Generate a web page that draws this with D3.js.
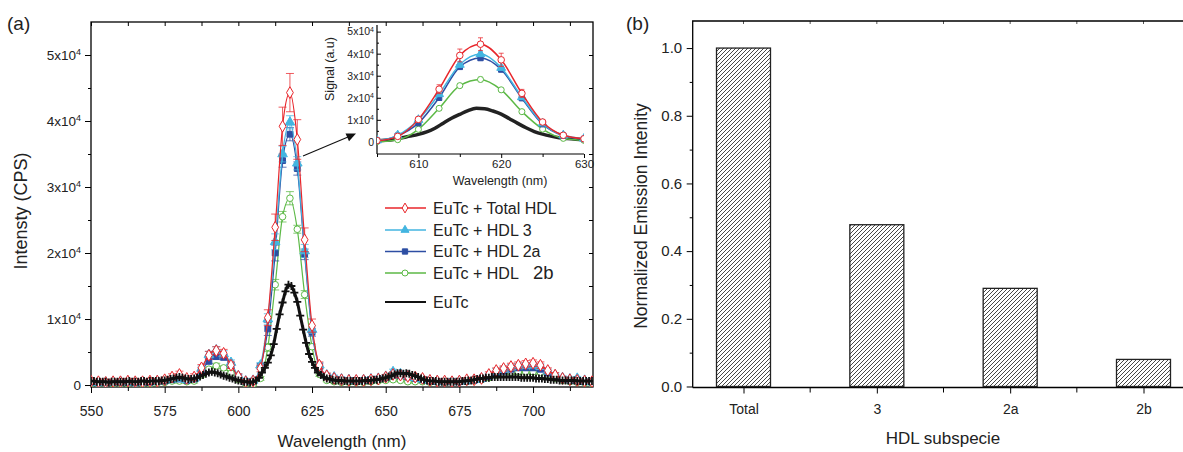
<!DOCTYPE html>
<html>
<head>
<meta charset="utf-8">
<script src="https://cdn.jsdelivr.net/npm/d3@7"></script>
<style>
  body { margin: 0; background: #fff; }
  svg { display: block; font-family: 'Liberation Sans', Arial, sans-serif; }
</style>
</head>
<body>
<svg id="chart" width="1183" height="452"></svg>
<script>
// wavelength grid of the marked series (nm), values in units of 1e4 CPS
var wl = d3.range(550, 721, 2.5);

var totalHdl = [
  0.06, 0.05, 0.04, 0.05,  0.05, 0.06, 0.05, 0.05,  0.06, 0.06, 0.08, 0.12,
  0.16, 0.10, 0.12, 0.26,  0.45, 0.52, 0.48, 0.30,  0.13, 0.05, 0.06, 0.25,
  1.02, 2.39, 3.92, 4.43,  3.72, 2.20, 0.90, 0.30,  0.14, 0.10, 0.08, 0.07,
  0.07, 0.07, 0.08, 0.09,  0.12, 0.16, 0.15, 0.13,  0.12, 0.10, 0.07, 0.06,
  0.06, 0.05, 0.06, 0.08,  0.08, 0.10, 0.16, 0.22,  0.25, 0.28, 0.30, 0.32,
  0.33, 0.30, 0.22, 0.15,  0.10, 0.08, 0.07, 0.06,  0.05
];
var hdl3 = [
  0.05, 0.04, 0.04, 0.05,  0.05, 0.05, 0.04, 0.05,  0.05, 0.06, 0.07, 0.09,
  0.10, 0.08, 0.10, 0.25,  0.46, 0.53, 0.47, 0.34,  0.14, 0.06, 0.07, 0.30,
  1.00, 2.17, 3.50, 3.98,  3.36, 2.03, 0.84, 0.30,  0.15, 0.12, 0.09, 0.08,
  0.07, 0.08, 0.09, 0.10,  0.13, 0.20, 0.17, 0.14,  0.11, 0.09, 0.07, 0.06,
  0.05, 0.05, 0.06, 0.07,  0.08, 0.10, 0.15, 0.21,  0.24, 0.27, 0.29, 0.30,
  0.30, 0.28, 0.21, 0.15,  0.11, 0.09, 0.10, 0.07,  0.05
];
var hdl2a = [
  0.04, 0.03, 0.03, 0.04,  0.04, 0.04, 0.03, 0.04,  0.04, 0.05, 0.06, 0.08,
  0.09, 0.07, 0.09, 0.22,  0.36, 0.43, 0.42, 0.30,  0.12, 0.05, 0.06, 0.28,
  0.85, 2.00, 3.40, 3.80,  3.28, 1.98, 0.80, 0.28,  0.13, 0.10, 0.08, 0.07,
  0.06, 0.07, 0.08, 0.09,  0.11, 0.15, 0.14, 0.12,  0.10, 0.08, 0.06, 0.05,
  0.05, 0.05, 0.05, 0.06,  0.07, 0.09, 0.13, 0.18,  0.21, 0.24, 0.26, 0.26,
  0.26, 0.24, 0.18, 0.13,  0.09, 0.07, 0.06, 0.05,  0.04
];
var hdl2b = [
  0.02, 0.01, 0.01, 0.02,  0.02, 0.02, 0.01, 0.02,  0.02, 0.03, 0.04, 0.06,
  0.06, 0.05, 0.06, 0.15,  0.24, 0.29, 0.26, 0.18,  0.08, 0.02, 0.01, 0.10,
  0.57, 1.52, 2.55, 2.83,  2.36, 1.37, 0.58, 0.16,  0.07, 0.05, 0.04, 0.04,
  0.04, 0.04, 0.05, 0.06,  0.07, 0.08, 0.07, 0.05,  0.05, 0.05, 0.04, 0.04,
  0.04, 0.04, 0.05, 0.05,  0.06, 0.08, 0.11, 0.15,  0.17, 0.19, 0.20, 0.20,
  0.20, 0.19, 0.15, 0.10,  0.07, 0.05, 0.04, 0.03,  0.02
];

var errTotal = [
  0.04, 0.04, 0.04, 0.04,  0.04, 0.04, 0.04, 0.04,  0.04, 0.04, 0.04, 0.05,
  0.05, 0.04, 0.05, 0.05,  0.06, 0.06, 0.06, 0.05,  0.04, 0.03, 0.03, 0.05,
  0.12, 0.20, 0.29, 0.29,  0.30, 0.18, 0.10, 0.05,  0.04, 0.03, 0.03, 0.03,
  0.03, 0.03, 0.03, 0.03,  0.04, 0.04, 0.04, 0.04,  0.03, 0.03, 0.03, 0.03,
  0.03, 0.03, 0.03, 0.03,  0.03, 0.03, 0.04, 0.04,  0.04, 0.05, 0.05, 0.05,
  0.05, 0.05, 0.04, 0.04,  0.03, 0.03, 0.03, 0.03,  0.03
];
var err3 = [
  0.03, 0.03, 0.03, 0.03,  0.03, 0.03, 0.03, 0.03,  0.03, 0.03, 0.03, 0.04,
  0.04, 0.03, 0.04, 0.04,  0.05, 0.05, 0.05, 0.04,  0.03, 0.03, 0.03, 0.04,
  0.08, 0.12, 0.12, 0.10,  0.10, 0.10, 0.06, 0.04,  0.03, 0.03, 0.03, 0.03,
  0.03, 0.03, 0.03, 0.03,  0.03, 0.04, 0.04, 0.03,  0.03, 0.03, 0.03, 0.03,
  0.03, 0.03, 0.03, 0.03,  0.03, 0.03, 0.03, 0.04,  0.04, 0.04, 0.04, 0.04,
  0.04, 0.04, 0.03, 0.03,  0.03, 0.03, 0.03, 0.03,  0.03
];
var err2a = [
  0.03, 0.03, 0.03, 0.03,  0.03, 0.03, 0.03, 0.03,  0.03, 0.03, 0.03, 0.03,
  0.03, 0.03, 0.03, 0.04,  0.04, 0.04, 0.04, 0.04,  0.03, 0.03, 0.03, 0.04,
  0.10, 0.12, 0.10, 0.10,  0.10, 0.08, 0.06, 0.04,  0.03, 0.03, 0.03, 0.03,
  0.03, 0.03, 0.03, 0.03,  0.03, 0.03, 0.03, 0.03,  0.03, 0.03, 0.03, 0.03,
  0.03, 0.03, 0.03, 0.03,  0.03, 0.03, 0.03, 0.03,  0.04, 0.04, 0.04, 0.04,
  0.04, 0.04, 0.03, 0.03,  0.03, 0.03, 0.03, 0.03,  0.03
];
var err2b = [
  0.02, 0.02, 0.02, 0.02,  0.02, 0.02, 0.02, 0.02,  0.02, 0.02, 0.02, 0.03,
  0.03, 0.02, 0.03, 0.03,  0.03, 0.04, 0.03, 0.03,  0.02, 0.02, 0.02, 0.03,
  0.06, 0.08, 0.08, 0.10,  0.06, 0.06, 0.04, 0.03,  0.02, 0.02, 0.02, 0.02,
  0.02, 0.02, 0.02, 0.02,  0.02, 0.02, 0.02, 0.02,  0.02, 0.02, 0.02, 0.02,
  0.02, 0.02, 0.02, 0.02,  0.02, 0.02, 0.03, 0.03,  0.03, 0.03, 0.03, 0.03,
  0.03, 0.03, 0.03, 0.02,  0.02, 0.02, 0.02, 0.02,  0.02
];

// EuTc alone, sampled every 1 nm
var euTcWl = d3.range(550, 721, 1);
var euTc = [
  0.06, 0.06, 0.05, 0.05, 0.05, 0.05, 0.04, 0.05, 0.05, 0.05,
  0.05, 0.05, 0.05, 0.06, 0.05, 0.05, 0.05, 0.06, 0.06, 0.05,
  0.06, 0.06, 0.06, 0.06, 0.07, 0.07, 0.08, 0.09, 0.10, 0.11,
  0.12, 0.11, 0.10, 0.09, 0.09, 0.10, 0.11, 0.13, 0.15, 0.17,
  0.19, 0.20, 0.19, 0.18, 0.16, 0.14, 0.13, 0.11, 0.10, 0.08,
  0.07, 0.06, 0.05, 0.05, 0.04, 0.05, 0.07, 0.11, 0.19, 0.26,
  0.34, 0.45, 0.62, 0.85, 1.07, 1.25, 1.42, 1.52, 1.50, 1.40,
  1.26, 1.05, 0.84, 0.64, 0.47, 0.35, 0.26, 0.19, 0.15, 0.12,
  0.10, 0.09, 0.08, 0.07, 0.07, 0.07, 0.06, 0.06, 0.06, 0.06,
  0.06, 0.06, 0.06, 0.07, 0.07, 0.07, 0.08, 0.08, 0.09, 0.10,
  0.11, 0.13, 0.14, 0.16, 0.18, 0.18, 0.17, 0.18, 0.17, 0.15,
  0.14, 0.12, 0.10, 0.08, 0.07, 0.06, 0.06, 0.06, 0.05, 0.05,
  0.05, 0.05, 0.05, 0.05, 0.05, 0.05, 0.06, 0.06, 0.07, 0.07,
  0.08, 0.09, 0.10, 0.10, 0.11, 0.11, 0.12, 0.12, 0.12, 0.12,
  0.12, 0.12, 0.12, 0.12, 0.12, 0.12, 0.11, 0.11, 0.11, 0.11,
  0.11, 0.10, 0.10, 0.10, 0.09, 0.09, 0.08, 0.08, 0.08, 0.07,
  0.07, 0.07, 0.07, 0.07, 0.07, 0.06, 0.06, 0.06, 0.06, 0.06,
  0.06
];

var xTicks = [550, 575, 600, 625, 650, 675, 700];
var yTicks = [0, 1, 2, 3, 4, 5];
var legendNames = ['EuTc + Total HDL', 'EuTc + HDL 3', 'EuTc + HDL 2a', 'EuTc + HDL', 'EuTc'];

// panel (b)
var subspecies = ['Total', '3', '2a', '2b'];
var normEmission = [1.0, 0.478, 0.29, 0.08];
var barTicks = [0, 0.2, 0.4, 0.6, 0.8, 1.0];

var RED = '#e8262b', CYAN = '#43b5e0', BLUE = '#2d4ea3', GREEN = '#5cb946';

var series = [
  { values: hdl2b, err: err2b, color: GREEN, symbol: d3.symbolCircle, size: 34, fill: '#fff' },
  { values: hdl2a, err: err2a, color: BLUE, symbol: d3.symbolSquare, size: 34, fill: BLUE },
  { values: hdl3, err: err3, color: CYAN, symbol: d3.symbolTriangle, size: 40, fill: CYAN },
  { values: totalHdl, err: errTotal, color: RED, symbol: d3.symbolDiamond, size: 40, fill: '#fff' }
];

var svg = d3.select('#chart');
var defs = svg.append('defs');

// ---------- panel (a) ----------
var x = d3.scaleLinear().domain([550, 720]).range([91, 592]);
var y = d3.scaleLinear().domain([-0.03, 5.5]).range([387, 22]);

defs.append('clipPath').attr('id', 'clipA')
  .append('rect').attr('x', 91).attr('y', 22).attr('width', 502).attr('height', 365);

function sciTicks(g, supSize) {
  g.selectAll('.tick text').each(function (d) {
    var t = d3.select(this).text('');
    if (d === 0) { t.text('0'); return; }
    t.append('tspan').text(d + 'x10');
    t.append('tspan').attr('dy', '-0.55em').attr('font-size', supSize).text('4');
  });
}

function cleanAxis(g) {
  g.select('.domain').remove();
  g.selectAll('.tick line').attr('stroke', '#000');
  g.selectAll('.tick text').attr('fill', '#222');
}

var gA = svg.append('g');

gA.append('g').attr('transform', 'translate(0,387)')
  .call(d3.axisBottom(x).tickValues(xTicks).tickSize(6).tickPadding(13).tickFormat(d3.format('d')))
  .attr('font-size', 14).call(cleanAxis);
gA.append('g').attr('transform', 'translate(0,387)')
  .call(d3.axisBottom(x).tickValues(d3.range(562.5, 720, 25)).tickSize(4).tickFormat(''))
  .call(cleanAxis);
gA.append('g').attr('transform', 'translate(0,22)')
  .call(d3.axisTop(x).tickValues(d3.range(550, 720, 12.5)).tickSize(-4).tickFormat(''))
  .call(cleanAxis);
gA.append('g').attr('transform', 'translate(91,0)')
  .call(d3.axisLeft(y).tickValues(yTicks).tickSize(6).tickPadding(4))
  .attr('font-size', 13.5).call(cleanAxis).call(sciTicks, '9px');
gA.append('g').attr('transform', 'translate(91,0)')
  .call(d3.axisLeft(y).tickValues([0.5, 1.5, 2.5, 3.5, 4.5]).tickSize(3).tickFormat(''))
  .call(cleanAxis);
gA.append('g').attr('transform', 'translate(593,0)')
  .call(d3.axisRight(y).tickValues(d3.range(0.5, 5.5, 0.5)).tickSize(-4).tickFormat(''))
  .call(cleanAxis);

gA.append('rect').attr('x', 91).attr('y', 22).attr('width', 502).attr('height', 365)
  .attr('fill', 'none').attr('stroke', '#000').attr('stroke-width', 1.3);

var plotA = gA.append('g').attr('clip-path', 'url(#clipA)');

function drawSeries(root, sx, sy, s, opt) {
  var pts = wl.map(function (w, i) { return { w: w, v: s.values[i], e: s.err[i] }; })
    .filter(function (p) { return p.w >= sx.domain()[0] - 3 && p.w <= sx.domain()[1] + 3; });
  var line = d3.line().x(function (p) { return sx(p.w); }).y(function (p) { return sy(p.v); })
    .curve(d3.curveMonotoneX);
  root.append('path').datum(pts).attr('d', line)
    .attr('fill', 'none').attr('stroke', s.color).attr('stroke-width', opt.lw);

  var eb = root.append('g').attr('stroke', s.color).attr('stroke-opacity', 0.75).attr('stroke-width', 1);
  pts.forEach(function (p) {
    var cx = sx(p.w);
    eb.append('line').attr('x1', cx).attr('x2', cx).attr('y1', sy(p.v - p.e)).attr('y2', sy(p.v + p.e));
    eb.append('line').attr('x1', cx - opt.cap).attr('x2', cx + opt.cap).attr('y1', sy(p.v + p.e)).attr('y2', sy(p.v + p.e));
    eb.append('line').attr('x1', cx - opt.cap).attr('x2', cx + opt.cap).attr('y1', sy(p.v - p.e)).attr('y2', sy(p.v - p.e));
  });

  root.append('g').selectAll('path').data(pts).enter().append('path')
    .attr('transform', function (p) { return 'translate(' + sx(p.w) + ',' + sy(p.v) + ')'; })
    .attr('d', d3.symbol().type(s.symbol).size(s.size * opt.scale))
    .attr('fill', s.fill).attr('stroke', s.color).attr('stroke-width', 1);
}

series.forEach(function (s) {
  drawSeries(plotA, x, y, s, { lw: 1.2, cap: 4, scale: 1 });
});

var euPts = euTcWl.map(function (w, i) { return { w: w, v: euTc[i] }; });
plotA.append('path').datum(euPts)
  .attr('d', d3.line().x(function (p) { return x(p.w); }).y(function (p) { return y(p.v); }).curve(d3.curveMonotoneX))
  .attr('fill', 'none').attr('stroke', '#111').attr('stroke-width', 3);
plotA.append('g').selectAll('path').data(euPts).enter().append('path')
  .attr('transform', function (p) { return 'translate(' + x(p.w) + ',' + y(p.v) + ')'; })
  .attr('d', 'M-4,0H4M0,-4V4')
  .attr('stroke', '#111').attr('stroke-width', 1.8);

// axis titles
gA.append('text').attr('x', 7).attr('y', 30).attr('font-size', 19).attr('fill', '#222').text('(a)');
gA.append('text').attr('x', 342).attr('y', 447).attr('text-anchor', 'middle')
  .attr('font-size', 17).attr('fill', '#222').text('Wavelength (nm)');
gA.append('text').attr('transform', 'translate(27,211) rotate(-90)').attr('text-anchor', 'middle')
  .attr('font-size', 18).attr('fill', '#222').text('Intensty (CPS)');

// legend
var legendStyle = [
  { color: RED, symbol: d3.symbolDiamond, fill: '#fff' },
  { color: CYAN, symbol: d3.symbolTriangle, fill: CYAN },
  { color: BLUE, symbol: d3.symbolSquare, fill: BLUE },
  { color: GREEN, symbol: d3.symbolCircle, fill: '#fff' },
  { color: '#111', symbol: null }
];
var legendY = [208, 230, 251.5, 273, 302];
var leg = gA.append('g');
legendNames.forEach(function (name, i) {
  var st = legendStyle[i], ly = legendY[i];
  leg.append('line').attr('x1', 385).attr('x2', 426).attr('y1', ly).attr('y2', ly)
    .attr('stroke', st.color).attr('stroke-width', i === 4 ? 1.8 : 1.3);
  if (st.symbol) {
    leg.append('path').attr('transform', 'translate(405,' + ly + ')')
      .attr('d', d3.symbol().type(st.symbol).size(28))
      .attr('fill', st.fill).attr('stroke', st.color).attr('stroke-width', 1);
  }
  leg.append('text').attr('x', 433).attr('y', ly + 5.5).attr('font-size', 16).attr('fill', '#222').text(name);
  if (i === 3) {
    leg.append('text').attr('x', 533).attr('y', ly + 6).attr('font-size', 18.5).attr('fill', '#222').text('2b');
  }
});

// arrow to the inset
gA.append('line').attr('x1', 303).attr('y1', 156).attr('x2', 348).attr('y2', 137)
  .attr('stroke', '#111').attr('stroke-width', 1.1);
gA.append('path').attr('d', 'M356,133.5 L345.5,133.6 L349,141.3 Z').attr('fill', '#111');

// ---------- inset ----------
var xi = d3.scaleLinear().domain([605, 630]).range([377, 584]);
var yi = d3.scaleLinear().domain([-0.55, 5.3]).range([154, 25]);

defs.append('clipPath').attr('id', 'clipI')
  .append('rect').attr('x', 377).attr('y', 25).attr('width', 207).attr('height', 129);

var gI = svg.append('g');
gI.append('g').attr('transform', 'translate(0,154)')
  .call(d3.axisBottom(xi).tickValues([610, 620, 630]).tickSize(4).tickPadding(2))
  .attr('font-size', 11.5).call(cleanAxis);
gI.append('g').attr('transform', 'translate(0,154)')
  .call(d3.axisBottom(xi).tickValues([605, 615, 625]).tickSize(3).tickFormat(''))
  .call(cleanAxis);
gI.append('g').attr('transform', 'translate(377,0)')
  .call(d3.axisLeft(yi).tickValues(yTicks).tickSize(-4).tickPadding(3))
  .attr('font-size', 10.5).call(cleanAxis).call(sciTicks, '7px');
gI.append('g').attr('transform', 'translate(377,0)')
  .call(d3.axisLeft(yi).tickValues([0.5, 1.5, 2.5, 3.5, 4.5]).tickSize(-2).tickFormat(''))
  .call(cleanAxis);
gI.append('line').attr('x1', 377).attr('x2', 377).attr('y1', 25).attr('y2', 154).attr('stroke', '#000').attr('stroke-width', 1.2);
gI.append('line').attr('x1', 377).attr('x2', 584).attr('y1', 154).attr('y2', 154).attr('stroke', '#000').attr('stroke-width', 1.2);

var plotI = gI.append('g').attr('clip-path', 'url(#clipI)');
var insetEu = euPts.filter(function (p) { return p.w >= 603 && p.w <= 632; });
plotI.append('path').datum(insetEu)
  .attr('d', d3.line().x(function (p) { return xi(p.w); }).y(function (p) { return yi(p.v); }).curve(d3.curveMonotoneX))
  .attr('fill', 'none').attr('stroke', '#222').attr('stroke-width', 3.5);
var insetStyle = [
  { symbol: d3.symbolCircle, fill: '#fff' },
  { symbol: d3.symbolSquare, fill: BLUE },
  { symbol: d3.symbolTriangle, fill: CYAN },
  { symbol: d3.symbolCircle, fill: '#fff' }
];
series.forEach(function (s, i) {
  var si = Object.assign({}, s, insetStyle[i]);
  drawSeries(plotI, xi, yi, si, { lw: 1.5, cap: 2.5, scale: 0.85 });
});

gI.append('text').attr('x', 500).attr('y', 185).attr('text-anchor', 'middle')
  .attr('font-size', 12.5).attr('fill', '#222').text('Wavelength (nm)');
gI.append('text').attr('transform', 'translate(334,69) rotate(-90)').attr('text-anchor', 'middle')
  .attr('font-size', 12.5).attr('fill', '#222').text('Signal (a.u)');

// ---------- panel (b) ----------
var xb = d3.scalePoint().domain(subspecies).range([743.5, 1143.5]);
var yb = d3.scaleLinear().domain([-0.003, 1.08]).range([387.5, 21]);
var step = xb.step();
var barW = 54;

var hatch = defs.append('pattern').attr('id', 'hatch').attr('patternUnits', 'userSpaceOnUse')
  .attr('width', 4).attr('height', 4);
hatch.append('rect').attr('width', 4).attr('height', 4).attr('fill', '#fff');
hatch.append('path').attr('d', 'M-1,1 l2,-2 M0,4 l4,-4 M3,5 l2,-2')
  .attr('stroke', '#333').attr('stroke-width', 0.9);

var gB = svg.append('g');
var midTicks = subspecies.slice(1).map(function (c) { return xb(c) - step / 2; });

gB.append('g').attr('transform', 'translate(0,387.5)')
  .call(d3.axisBottom(xb).tickSize(6).tickPadding(11))
  .attr('font-size', 14).call(cleanAxis);
gB.append('g').attr('transform', 'translate(0,387.5)')
  .call(d3.axisBottom(d3.scaleLinear()).tickValues(midTicks).tickSize(5).tickFormat(''))
  .call(function (g) { g.selectAll('.tick').attr('transform', function (d) { return 'translate(' + d + ',0)'; }); })
  .call(cleanAxis);
gB.append('g').attr('transform', 'translate(692.7,0)')
  .call(d3.axisLeft(yb).tickValues(barTicks).tickSize(6).tickPadding(4.5).tickFormat(d3.format('.1f')))
  .attr('font-size', 15).call(cleanAxis);
gB.append('g').attr('transform', 'translate(692.7,0)')
  .call(d3.axisLeft(yb).tickValues([0.1, 0.3, 0.5, 0.7, 0.9]).tickSize(3).tickFormat(''))
  .call(cleanAxis);

var topTicks = subspecies.map(function (c) { return xb(c); }).concat(midTicks);
gB.append('g').selectAll('line').data(topTicks).enter().append('line')
  .attr('x1', function (d) { return d; }).attr('x2', function (d) { return d; })
  .attr('y1', 21).attr('y2', 24).attr('stroke', '#555');

gB.append('path').attr('d', 'M692.7,387.5V21H1183')
  .attr('fill', 'none').attr('stroke', '#000').attr('stroke-width', 1.3);
gB.append('line').attr('x1', 692.7).attr('x2', 1183).attr('y1', 387.5).attr('y2', 387.5)
  .attr('stroke', '#000').attr('stroke-width', 1.3);

gB.append('g').selectAll('rect').data(subspecies).enter().append('rect')
  .attr('x', function (d) { return xb(d) - barW / 2; })
  .attr('y', function (d, i) { return yb(normEmission[i]); })
  .attr('width', barW)
  .attr('height', function (d, i) { return yb(0) - yb(normEmission[i]); })
  .attr('fill', 'url(#hatch)').attr('stroke', '#222').attr('stroke-width', 1.3);

gB.append('text').attr('x', 626).attr('y', 30).attr('font-size', 19).attr('fill', '#222').text('(b)');
gB.append('text').attr('x', 943).attr('y', 444).attr('text-anchor', 'middle')
  .attr('font-size', 17).attr('fill', '#222').text('HDL subspecie');
gB.append('text').attr('transform', 'translate(647,216) rotate(-90)').attr('text-anchor', 'middle')
  .attr('font-size', 17.5).attr('fill', '#222').text('Normalized Emission Intenity');
</script>
</body>
</html>
